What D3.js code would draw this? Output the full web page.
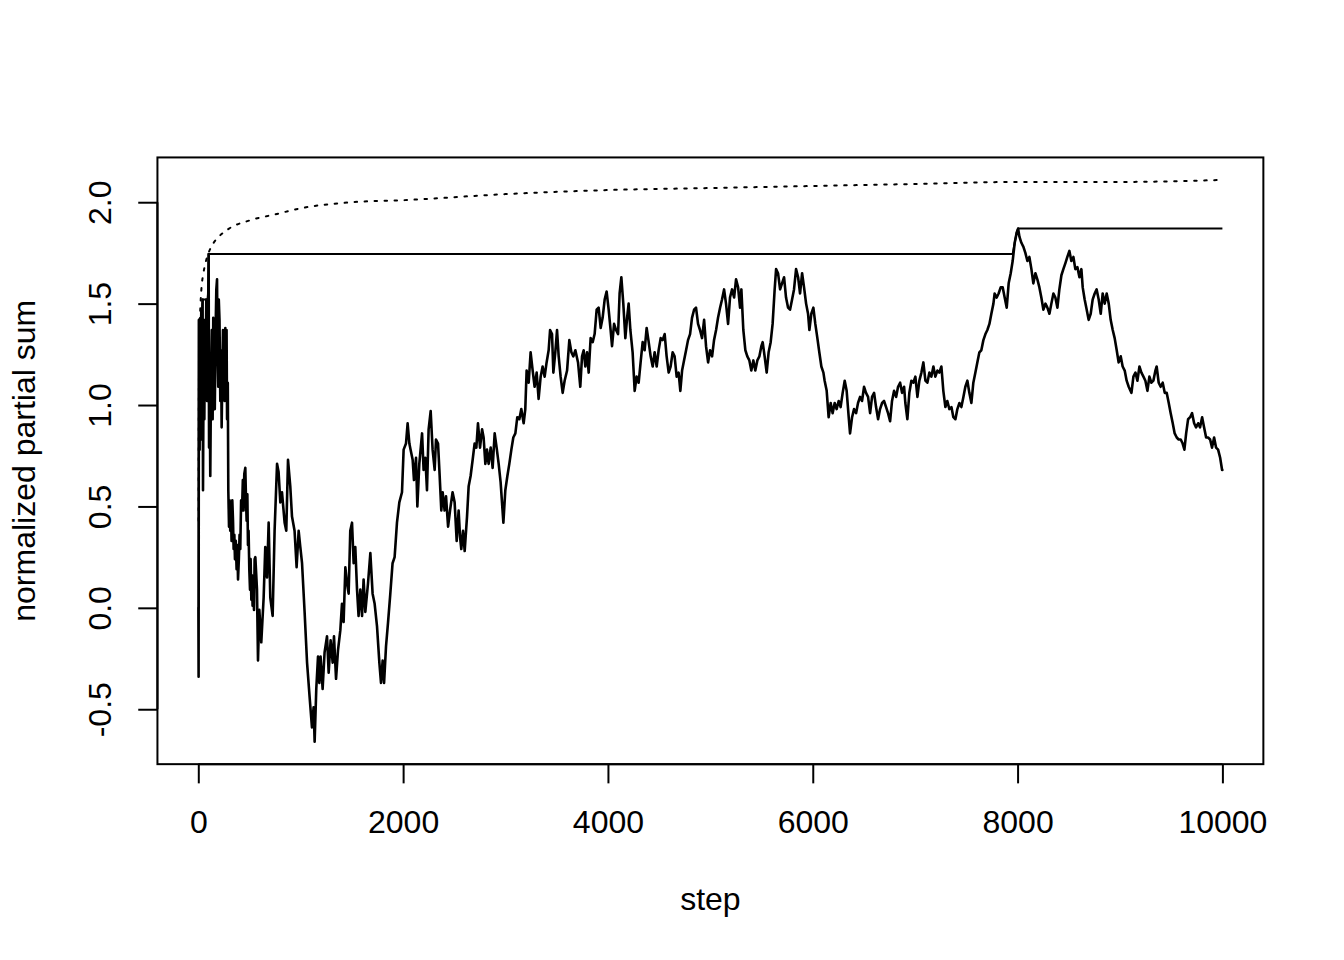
<!DOCTYPE html>
<html><head><meta charset="utf-8">
<script src="https://cdn.jsdelivr.net/npm/d3@7"></script>
<style>body{margin:0;background:#fff}</style>
</head><body><svg id="chart" width="1344" height="960"></svg>
<script>
// normalized partial sum S_n / sqrt(n): [step, value]
const walk = [
[1,0],[3,-0.34],[6,1.42],[13,0.78],[18,1.32],[24,0.83],[29,1.47],[36,1.02],[42,1.52],[46,0.58],[52,1.22],[59,0.93],[65,1.42],[71,1.12],[78,1.52],[85,1.02],[91,1.37],[98,1.57],[101,1.745],[105,0.79],[112,1.02],[117,0.65],[124,1.12],[132,1.37],[140,0.93],[146,1.43],[153,1.22],[161,0.98],[169,1.37],[176,1.57],[183,1.62],[188,1.27],[195,1.09],[200,1.52],[207,1.42],[215,1.02],[222,1.27],[228,0.89],[234,1.12],[241,1.37],[249,1.32],[257,1.02],[264,1.38],[271,1.12],[276,1.37],[281,0.93],[288,1.11],[293,0.58],[300,0.40],[306,0.53],[312,0.38],[319,0.48],[325,0.33],[332,0.53],[339,0.43],[345,0.29],[352,0.36],[358,0.24],[366,0.33],[374,0.19],[381,0.31],[388,0.14],[396,0.24],[403,0.36],[410,0.29],[418,0.53],[427,0.48],[435,0.63],[442,0.48],[449,0.66],[459,0.69],[466,0.53],[472,0.43],[479,0.56],[485,0.31],[491,0.38],[498,0.19],[505,0.09],[511,0.24],[518,0.04],[524,0.16],[530,0.01],[537,0.09],[544,-0.01],[550,0.24],[557,0.25],
[573,0.09],[583,-0.26],[596,-0.01],[615,-0.17],[638,0.05],[654,0.30],[671,0.15],[687,0.42],[703,0.05],[726,-0.04],[745,0.38],[769,0.71],[784,0.67],[801,0.52],[817,0.57],[843,0.42],[859,0.38],[876,0.73],[898,0.60],[915,0.45],[940,0.38],[960,0.20],[980,0.38],[996,0.30],[1013,0.22],[1038,-0.02],[1062,-0.27],[1087,-0.44],[1110,-0.59],[1126,-0.49],[1136,-0.66],[1152,-0.40],[1169,-0.24],[1182,-0.37],[1194,-0.24],[1214,-0.40],[1233,-0.22],[1257,-0.14],[1273,-0.32],[1292,-0.16],[1312,-0.27],[1325,-0.14],[1345,-0.35],[1364,-0.21],[1387,-0.11],[1403,0.02],[1419,-0.07],[1436,0.20],[1452,0.12],[1468,0.07],[1484,0.38],[1501,0.42],[1517,0.22],[1533,0.30],[1550,0.09],[1565,-0.04],[1582,0.09],[1599,-0.04],[1614,0.14],[1631,-0.02],[1657,0.12],[1680,0.27],[1702,0.07],[1722,0.02],[1745,-0.09],[1768,-0.27],[1784,-0.37],[1800,-0.26],[1814,-0.37],[1833,-0.19],[1853,-0.07],[1875,0.07],[1897,0.22],[1917,0.25],[1940,0.42],[1963,0.52],[1989,0.57],[2005,0.78],[2028,0.81],[2044,0.91],[2061,0.81],[2073,0.78],[2093,0.73],[2106,0.63],[2126,0.74],[2139,0.50],[2158,0.71],[2185,0.86],[2200,0.68],[2217,0.74],
[2233,0.58],[2249,0.88],[2269,0.97],[2288,0.78],[2308,0.68],[2321,0.83],[2341,0.81],[2354,0.68],[2373,0.48],[2386,0.57],[2405,0.48],[2419,0.55],[2439,0.40],[2458,0.48],[2483,0.57],[2503,0.52],[2523,0.33],[2542,0.48],[2556,0.35],[2568,0.29],[2585,0.38],[2601,0.28],[2624,0.45],[2640,0.60],[2659,0.65],[2679,0.73],[2698,0.81],[2715,0.79],[2731,0.91],[2751,0.79],[2771,0.88],[2786,0.84],[2803,0.71],[2819,0.78],[2835,0.71],[2855,0.79],[2874,0.69],[2894,0.86],[2913,0.79],[2933,0.71],[2952,0.62],[2979,0.42],[2998,0.58],[3018,0.65],[3037,0.71],[3057,0.78],[3076,0.84],[3096,0.86],[3115,0.94],[3135,0.93],[3154,0.98],[3177,0.91],[3193,0.98],[3206,1.17],[3226,1.11],[3245,1.26],[3265,1.17],[3284,1.09],[3304,1.16],[3323,1.03],[3343,1.14],[3362,1.19],[3382,1.14],[3401,1.21],[3421,1.27],[3435,1.37],[3454,1.35],[3467,1.16],[3486,1.26],[3503,1.37],[3519,1.24],[3538,1.14],[3558,1.06],[3577,1.12],[3601,1.17],[3623,1.32],[3643,1.26],[3662,1.24],
[3682,1.27],[3708,1.21],[3730,1.09],[3747,1.24],[3763,1.27],[3779,1.19],[3796,1.26],[3812,1.16],[3831,1.33],[3851,1.31],[3870,1.35],[3890,1.47],[3909,1.48],[3929,1.38],[3948,1.43],[3968,1.52],[3987,1.56],[4007,1.47],[4026,1.37],[4040,1.29],[4060,1.40],[4079,1.37],[4099,1.35],[4114,1.55],[4131,1.63],[4150,1.50],[4170,1.33],[4187,1.43],[4202,1.50],[4219,1.37],[4241,1.26],[4261,1.07],[4280,1.14],[4300,1.11],[4319,1.21],[4339,1.31],[4358,1.27],[4378,1.38],[4398,1.31],[4417,1.24],[4437,1.19],[4456,1.26],[4476,1.19],[4495,1.27],[4515,1.33],[4534,1.32],[4554,1.35],[4573,1.24],[4593,1.16],[4612,1.19],[4632,1.26],[4651,1.24],[4671,1.14],[4690,1.16],[4707,1.07],[4724,1.17],[4743,1.22],[4763,1.27],[4782,1.32],[4802,1.35],[4821,1.43],[4841,1.47],[4860,1.48],[4880,1.40],[4899,1.37],[4919,1.33],[4939,1.42],[4958,1.29],[4978,1.21],[4997,1.27],[5017,1.24],[5036,1.32],[5056,1.37],[5075,1.43],[5095,1.48],[5114,1.52],[5134,1.57],[5153,1.50],[5173,1.40],[5192,1.53],[5212,1.57],[5232,1.53],[5251,1.62],[5271,1.58],[5290,1.48],[5303,1.57],[5322,1.37],[5342,1.27],
[5361,1.24],[5381,1.22],[5400,1.17],[5420,1.22],[5439,1.17],[5459,1.22],[5479,1.24],[5498,1.29],[5511,1.31],[5530,1.24],[5550,1.16],[5569,1.26],[5589,1.31],[5608,1.40],[5628,1.57],[5642,1.67],[5661,1.65],[5681,1.57],[5700,1.60],[5720,1.63],[5739,1.53],[5759,1.48],[5778,1.47],[5798,1.52],[5817,1.57],[5837,1.67],[5857,1.63],[5876,1.55],[5896,1.65],[5915,1.58],[5935,1.50],[5954,1.45],[5967,1.37],[5986,1.45],[6006,1.48],[6025,1.40],[6045,1.33],[6064,1.26],[6084,1.19],[6104,1.16],[6116,1.12],[6136,1.07],[6155,0.94],[6175,1.01],[6194,0.96],[6214,1.01],[6233,0.98],[6253,1.02],[6272,0.99],[6292,1.06],[6312,1.12],[6331,1.07],[6351,0.94],[6364,0.86],[6384,0.94],[6403,0.98],[6423,0.96],[6442,1.01],[6462,1.04],[6481,1.02],[6501,1.09],[6520,1.06],[6540,1.04],[6560,0.96],[6579,1.04],[6599,1.06],[6618,0.99],[6638,0.93],[6657,0.98],[6677,1.01],[6696,1.02],[6716,0.99],[6735,0.96],[6755,0.92],[6774,1.02],[6794,1.07],[6814,1.04],[6833,1.09],[6853,1.11],[6872,1.06],[6892,1.09],
[6904,1.01],[6924,0.93],[6943,1.06],[6963,1.12],[6982,1.11],[7002,1.14],[7022,1.04],[7041,1.12],[7061,1.16],[7080,1.21],[7100,1.12],[7119,1.11],[7139,1.16],[7158,1.14],[7178,1.19],[7197,1.14],[7217,1.17],[7236,1.16],[7256,1.19],[7275,1.07],[7295,0.99],[7314,1.02],[7334,0.98],[7354,0.99],[7373,0.94],[7393,0.93],[7412,0.98],[7432,1.01],[7451,0.99],[7471,1.04],[7490,1.09],[7510,1.12],[7529,1.06],[7549,1.01],[7568,1.11],[7588,1.16],[7607,1.21],[7627,1.26],[7646,1.27],[7666,1.32],[7686,1.35],[7705,1.37],[7725,1.40],[7744,1.45],[7764,1.50],[7776,1.55],[7796,1.53],[7815,1.55],[7835,1.58],[7855,1.58],[7874,1.53],[7894,1.48],[7913,1.60],[7933,1.65],[7952,1.71],[7972,1.80],[7991,1.85],[8005,1.87],
[8018,1.83],[8037,1.80],[8057,1.78],[8076,1.75],[8096,1.71],[8115,1.73],[8135,1.67],[8154,1.60],[8174,1.65],[8193,1.62],[8213,1.58],[8232,1.53],[8252,1.47],[8272,1.50],[8291,1.48],[8311,1.45],[8330,1.50],[8350,1.55],[8369,1.53],[8389,1.48],[8408,1.57],[8428,1.64],[8447,1.67],[8467,1.70],[8486,1.73],[8506,1.76],[8525,1.71],[8545,1.73],[8564,1.67],[8584,1.68],[8604,1.63],[8623,1.67],[8636,1.58],[8655,1.52],[8675,1.47],[8694,1.42],[8714,1.45],[8733,1.52],[8753,1.55],[8772,1.57],[8792,1.52],[8812,1.45],[8831,1.55],[8851,1.50],[8870,1.55],[8890,1.50],[8909,1.42],[8929,1.37],[8948,1.33],[8968,1.27],[8987,1.21],[9007,1.24],[9026,1.19],[9046,1.17],[9065,1.12],[9085,1.09],[9112,1.06],[9131,1.14],[9151,1.16],[9170,1.12],[9190,1.19],[9209,1.16],[9229,1.14],[9248,1.12],[9268,1.07],[9287,1.14],[9307,1.11],[9326,1.12],[9346,1.17],[9358,1.19],[9378,1.11],[9397,1.09],[9417,1.11],[9437,1.06],[9456,1.06],[9476,1.01],[9495,0.96],[9515,0.91],[9534,0.86],[9554,0.84],[9573,0.83],[9593,0.83],[9612,0.81],[9629,0.78],[9646,0.86],[9665,0.93],[9685,0.94],[9704,0.96],[9724,0.91],[9743,0.89],[9763,0.91],[9782,0.89],[9802,0.94],[9821,0.89],[9841,0.84],[9860,0.84],[9880,0.83],[9899,0.79],[9919,0.84],[9938,0.79],[9958,0.78],[9978,0.74],[9997,0.68],[10000,0.68]
];
// dotted bound curve
const boundSteps  = [3,5,8,12,20,30,50,75,100,150,200,300,500,750,1000,1500,2000,3000,4000,5000,6000,7000,8000,9000,10000];
const boundValues = [0.43,0.98,1.21,1.35,1.48,1.57,1.65,1.71,1.75,1.80,1.83,1.87,1.91,1.94,1.97,2.00,2.01,2.04,2.06,2.07,2.08,2.09,2.10,2.10,2.11];
const xTicks = [0,2000,4000,6000,8000,10000];
const xTickLabels = ["0","2000","4000","6000","8000","10000"];
const yTicks = [-0.5,0,0.5,1,1.5,2];
const yTickLabels = ["-0.5","0.0","0.5","1.0","1.5","2.0"];
const xTitle = "step";
const yTitle = "normalized partial sum";

const W = 1344, H = 960, LH = 38.4, FS = 32, LW = 2;
const FONT = '"Liberation Sans", Arial, Helvetica, sans-serif';
const plot = {left: 4.1*LH, right: W - 2.1*LH, top: 4.1*LH, bottom: H - 5.1*LH};
const pad = ([a, b]) => { const p = (b - a) * 0.04; return [a - p, b + p]; };

const bound = boundSteps.map((s, i) => [s, boundValues[i]]);
let m = -Infinity;
const runMax = walk.map(([s, v]) => [s, (m = Math.max(m, v))]);

const xExt = d3.extent(walk, d => d[0]);
const yExt = d3.extent(walk.map(d => d[1]).concat(boundValues));
const x = d3.scaleLinear().domain(pad(xExt)).range([plot.left, plot.right]);
const y = d3.scaleLinear().domain(pad(yExt)).range([plot.bottom, plot.top]);

const svg = d3.select("#chart");
svg.append("rect").attr("width", W).attr("height", H).attr("fill", "#fff");

const line = d3.line().x(d => x(d[0])).y(d => y(d[1]));
svg.append("path").datum(walk).attr("d", line)
  .attr("fill", "none").attr("stroke", "#000").attr("stroke-width", 2.6)
  .attr("stroke-linejoin", "round").attr("stroke-linecap", "round");
svg.append("path").datum(runMax).attr("d", line)
  .attr("fill", "none").attr("stroke", "#000").attr("stroke-width", LW)
  .attr("stroke-linejoin", "round");
svg.append("path").datum(bound).attr("d", line.curve(d3.curveMonotoneX))
  .attr("fill", "none").attr("stroke", "#000").attr("stroke-width", LW)
  .attr("stroke-dasharray", "2.5,7.5").attr("stroke-linecap", "round");

// box
svg.append("rect").attr("x", plot.left).attr("y", plot.top)
  .attr("width", plot.right - plot.left).attr("height", plot.bottom - plot.top)
  .attr("fill", "none").attr("stroke", "#000").attr("stroke-width", LW);

// x axis
const gx = svg.append("g").attr("transform", `translate(0,${plot.bottom})`)
  .call(d3.axisBottom(x).tickValues(xTicks).tickFormat((d, i) => xTickLabels[i])
        .tickSize(0.5*LH).tickSizeOuter(0));
gx.select(".domain").remove();
gx.append("line").attr("x1", x(xTicks[0])).attr("x2", x(xTicks[xTicks.length-1]))
  .attr("stroke", "#000").attr("stroke-width", LW);
gx.selectAll(".tick line").attr("stroke-width", LW);
gx.selectAll(".tick text").attr("y", 1.8*LH).attr("dy", null)
  .attr("font-family", FONT).attr("font-size", FS).attr("fill", "#000");

// y axis
const gy = svg.append("g").attr("transform", `translate(${plot.left},0)`)
  .call(d3.axisLeft(y).tickValues(yTicks).tickFormat((d, i) => yTickLabels[i])
        .tickSize(0.5*LH).tickSizeOuter(0));
gy.select(".domain").remove();
gy.append("line").attr("y1", y(yTicks[0])).attr("y2", y(yTicks[yTicks.length-1]))
  .attr("stroke", "#000").attr("stroke-width", LW);
gy.selectAll(".tick line").attr("stroke-width", LW);
gy.selectAll(".tick text").attr("x", 0).attr("y", 0).attr("dy", null)
  .attr("transform", `translate(${-1.2*LH},0) rotate(-90)`)
  .attr("text-anchor", "middle")
  .attr("font-family", FONT).attr("font-size", FS).attr("fill", "#000");

// titles
svg.append("text").attr("x", (plot.left + plot.right)/2).attr("y", plot.bottom + 3.8*LH)
  .attr("text-anchor", "middle").attr("font-family", FONT).attr("font-size", FS).text(xTitle);
svg.append("text")
  .attr("transform", `translate(${plot.left - 3.2*LH},${(plot.top + plot.bottom)/2}) rotate(-90)`)
  .attr("text-anchor", "middle").attr("font-family", FONT).attr("font-size", FS).text(yTitle);
</script>
</body></html>
